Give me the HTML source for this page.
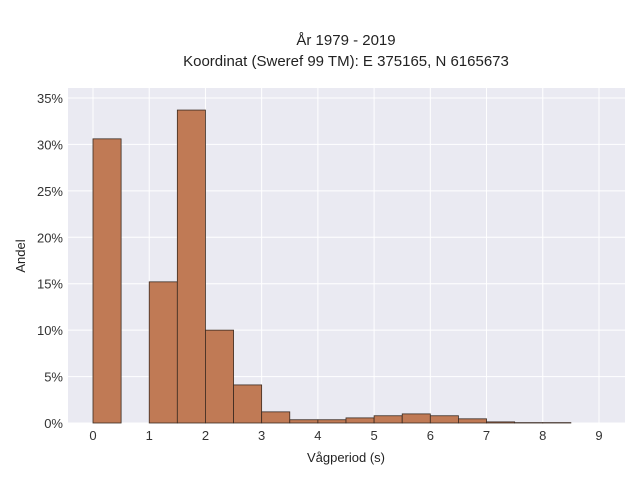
<!DOCTYPE html>
<html><head><meta charset="utf-8"><style>
body{margin:0;background:#fff;font-family:"Liberation Sans",sans-serif}
</style></head><body>
<svg id="chart" width="640" height="480" xmlns="http://www.w3.org/2000/svg" font-family="Liberation Sans, sans-serif">
<text x="346" y="45" text-anchor="middle" font-size="15" fill="#222">År 1979 - 2019</text>
<text x="346" y="66" text-anchor="middle" font-size="15" fill="#222">Koordinat (Sweref 99 TM): E 375165, N 6165673</text>
<rect x="68" y="88" width="557" height="335" fill="#eaeaf2"/>
<g id="grid"></g><g id="bars"></g><g id="ticks"></g>
<text x="346" y="462" text-anchor="middle" font-size="13" fill="#222">Vågperiod (s)</text>
<text x="25" y="256" text-anchor="middle" font-size="13" fill="#222" transform="rotate(-90 25 256)">Andel</text>
</svg>
<script>
const binStarts=[0,0.5,1,1.5,2,2.5,3,3.5,4,4.5,5,5.5,6,6.5,7,7.5,8];
const binValues=[30.6,0,15.2,33.7,10.0,4.1,1.2,0.35,0.35,0.55,0.78,0.98,0.78,0.45,0.12,0.04,0.04];
const binWidth=0.5;
const xTicks=[0,1,2,3,4,5,6,7,8,9];
const yTicks=[0,5,10,15,20,25,30,35];
const NS="http://www.w3.org/2000/svg";
const xs=v=>93+v*56.22, ys=v=>423-v*9.286;
function mk(t,a,p){const e=document.createElementNS(NS,t);for(const k in a)e.setAttribute(k,a[k]);p.appendChild(e);return e;}
const g=document.getElementById('grid'),b=document.getElementById('bars'),tk=document.getElementById('ticks');
xTicks.forEach(v=>{const l=mk('line',{x1:xs(v),x2:xs(v),y1:88,y2:423,stroke:'#fff','stroke-width':1},g);


const t=mk('text',{x:xs(v),y:440,'text-anchor':'middle','font-size':13,fill:'#333'},tk);t.textContent=v;

});
yTicks.forEach(v=>{const l=mk('line',{x1:68,x2:625,y1:ys(v),y2:ys(v),stroke:'#fff','stroke-width':1},g);


const t=mk('text',{x:63,y:ys(v)+5,'text-anchor':'end','font-size':13,fill:'#333'},tk);t.textContent=v+'%';

});
binStarts.forEach((s,i)=>{const v=binValues[i];if(v<=0)return;
const r=mk('rect',{x:xs(s),y:ys(v),width:xs(s+binWidth)-xs(s),height:ys(0)-ys(v),fill:'#c07a55',stroke:'#3a2a20','stroke-width':0.8},b);

});
</script>
</body></html>
